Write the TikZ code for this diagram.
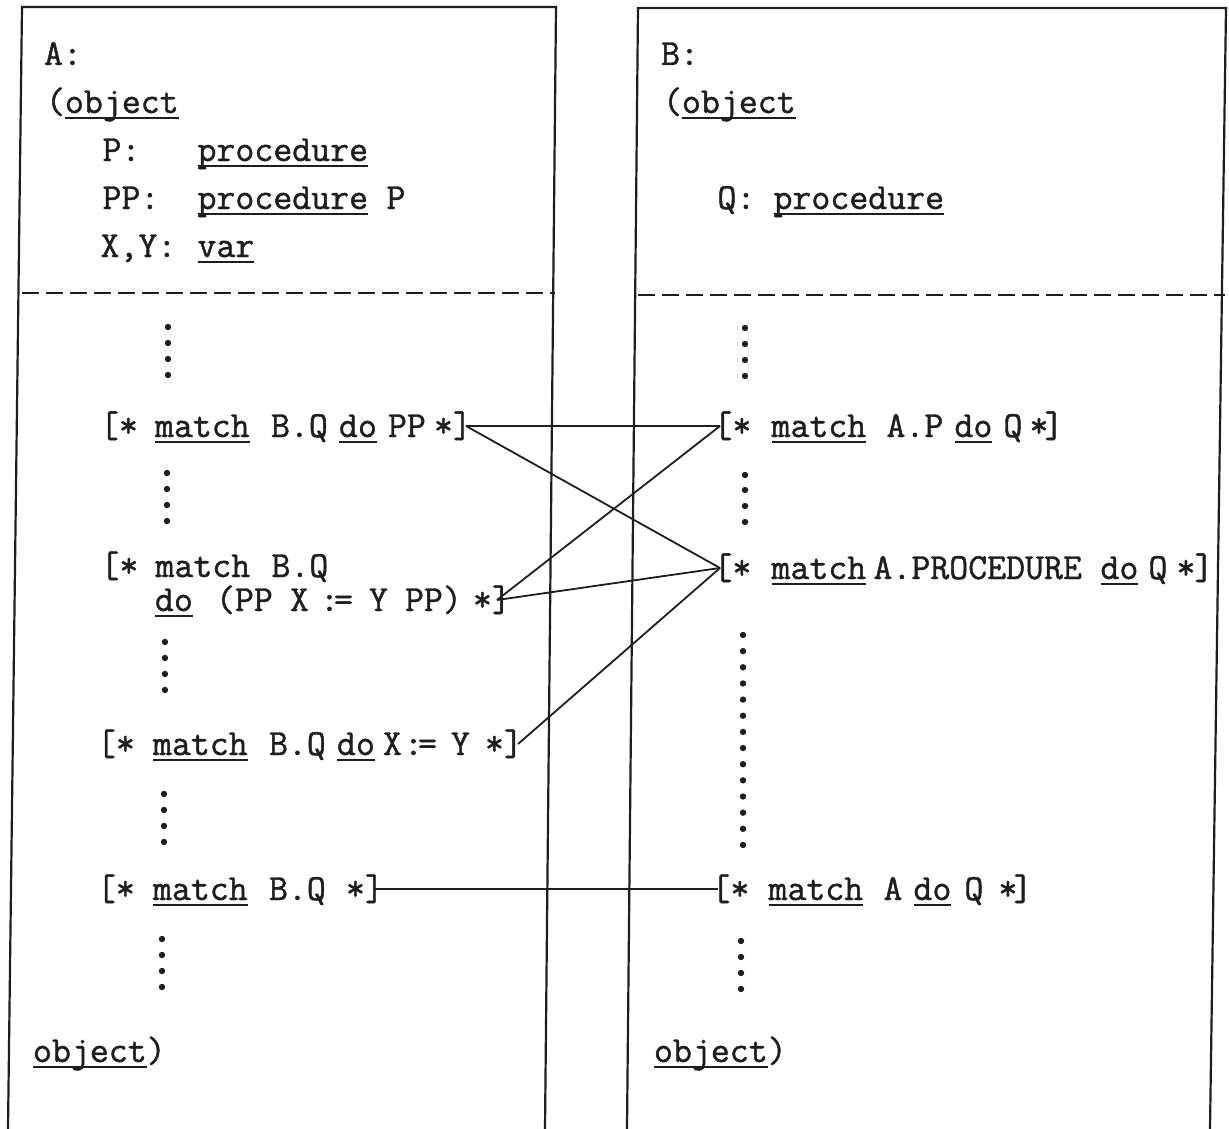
\documentclass[tikz,border=0pt]{standalone}
\usepackage{fontspec}
\newfontfamily\twr{Latin Modern Mono}[FakeBold=1.2]
\definecolor{ink}{HTML}{1E1E1E}
\newcommand\tk[2]{\rlap{\hspace*{#1pt}#2}}
\newcommand\ul[1]{\setbox0=\hbox{#1}\rlap{\rule[-6pt]{\wd0}{1.8pt}}\box0}
\tikzset{
  tt/.style={inner sep=0pt, outer sep=0pt, anchor=base west, text=ink,
     font=\twr\fontsize{36.8}{44}\selectfont},
  row/.style={tt, text height=22pt, text depth=0pt},
  boxline/.style={draw=ink, line width=2.2pt},
  dashline/.style={draw=ink, line width=2.8pt, dash pattern=on 17pt off 7pt},
  conn/.style={draw=ink, line width=1.8pt},
  dotc/.style={fill=ink}
}
\begin{document}
\begin{tikzpicture}[x=1pt,y=-1pt]
\useasboundingbox[fill=white] (0,0) rectangle (1229,1129);
% boxes
\draw[boxline] (8,1129) -- (22,7) -- (556,7) -- (545,1129);
\draw[boxline] (627,1129) -- (638,8) -- (1226,8) -- (1210,1129);
\draw[dashline] (22,293) -- (555,293);
\draw[dashline] (638,295) -- (1225,295);
% left header
\node[tt] (la) at (44,65) {A:};
\node[tt] (lobj) at (46,113) {(\ul{object}};
\node[tt] (lp) at (102,161) {\tk{0}{P:}\tk{95}{\ul{procedure}}};
\node[tt] (lpp) at (102,209) {\tk{0}{PP:}\tk{95}{\ul{procedure}}\tk{284}{P}};
\node[tt] (lxy) at (100,257) {\tk{0}{X,Y:}\tk{97}{\ul{var}}};
% right header
\node[tt] (rb) at (661,65) {B:};
\node[tt] (robj) at (663,113) {(\ul{object}};
\node[tt] (rq) at (717,209) {\tk{0}{Q:}\tk{56}{\ul{procedure}}};
% left rows
\node[row] (l1) at (107,437) {\tk{-7}{[*}\tk{48}{\ul{match}}\tk{164}{B.Q}\tk{232}{\ul{do}}\tk{281}{PP}\tk{327}{*]}\hspace*{359pt}};
\node[row] (l2a) at (107,577) {\tk{-7}{[*}\tk{48}{match}\tk{164}{B.Q}};
\node[row] (l2b) at (155,611) {\tk{0}{\ul{do}}\tk{61}{(PP}\tk{135}{X}\tk{165}{:}\tk{179}{=}\tk{214}{Y}\tk{250}{PP)}\tk{318}{*]}\hspace*{342pt}};
\node[row] (l3) at (104,755) {\tk{-7}{[*}\tk{49}{\ul{match}}\tk{165}{B.Q}\tk{233}{\ul{do}}\tk{279}{X}\tk{300}{:}\tk{314}{=}\tk{347}{Y}\tk{381}{*}\tk{400}{]}\hspace*{414pt}};
\node[row] (l4) at (104,900) {\tk{-7}{[*}\tk{49}{\ul{match}}\tk{165}{B.Q}\tk{242}{*]}\hspace*{271pt}};
% right rows
\node[row] (r1) at (720,437) {\tk{-7}{[*}\tk{51}{\ul{match}}\tk{166}{A.P}\tk{234}{\ul{do}}\tk{283}{Q}\tk{309}{*}\tk{324}{]}};
\node[row] (r2) at (720,579) {\tk{-7}{[*}\tk{51}{\ul{match}}\tk{153}{A.PROCEDURE}\tk{380}{\ul{do}}\tk{428}{Q}\tk{456}{*}\tk{474}{]}};
\node[row] (r4) at (718,900) {\tk{-7}{[*}\tk{50}{\ul{match}}\tk{165}{A}\tk{195}{\ul{do}}\tk{246}{Q}\tk{280}{*}\tk{295}{]}};
% footers
\node[tt] (lend) at (33,1062) {\ul{object})};
\node[tt] (rend) at (654,1062) {\ul{object})};
% dots
\foreach \y in {327,343,359,375} \fill[dotc] (168,\y) circle (3.2pt);
\foreach \y in {473,489,505,521} \fill[dotc] (167,\y) circle (3.2pt);
\foreach \y in {642,658,674,690} \fill[dotc] (165,\y) circle (3.2pt);
\foreach \y in {794,810,826,842} \fill[dotc] (164,\y) circle (3.2pt);
\foreach \y in {939,955,971,987} \fill[dotc] (162,\y) circle (3.2pt);
\foreach \y in {328,344,360,376} \fill[dotc] (745,\y) circle (3.2pt);
\foreach \y in {475,490,506,522} \fill[dotc] (745,\y) circle (3.2pt);
\foreach \k in {0,...,13} \fill[dotc] (743,635+16.15*\k) circle (3.2pt);
\foreach \y in {941,957,973,989} \fill[dotc] (741,\y) circle (3.2pt);
% connectors
\draw[conn] (l1.east) -- (r1.west);
\draw[conn] (l1.east) -- (r2.west);
\draw[conn] (l2b.east) -- (r1.west);
\draw[conn] (l2b.east) -- (r2.west);
\draw[conn] (l3.east) -- (r2.west);
\draw[conn] (l4.east) -- (r4.west);
\end{tikzpicture}
\end{document}
